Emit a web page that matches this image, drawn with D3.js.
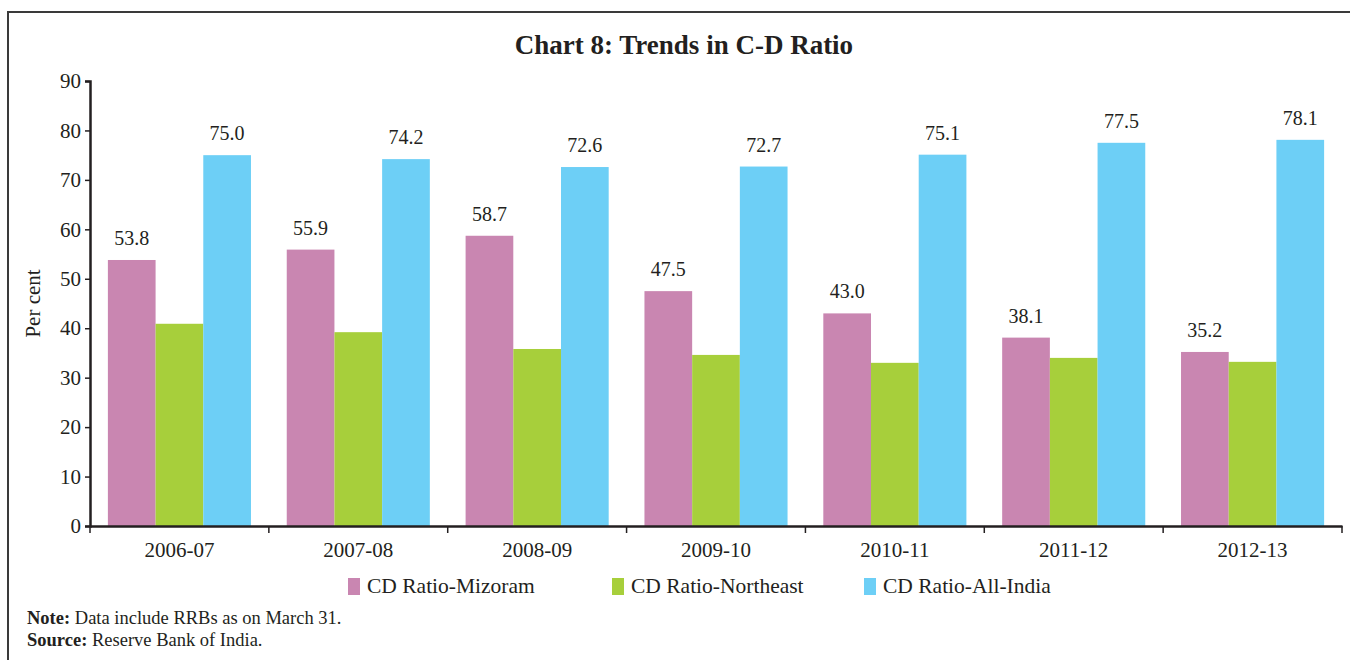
<!DOCTYPE html>
<html>
<head>
<meta charset="utf-8">
<script src="https://cdn.jsdelivr.net/npm/d3@7"></script>
<style>
  body { margin: 0; background: #fff; }
  svg text { font-family: "Liberation Serif", "DejaVu Serif", serif; fill: #231f20; }
</style>
</head>
<body>
<div id="chart"></div>
<script>

// Chart data

var years = ["2006-07", "2007-08", "2008-09", "2009-10", "2010-11", "2011-12", "2012-13"];
var seriesNames = ["CD Ratio-Mizoram", "CD Ratio-Northeast", "CD Ratio-All-India"];
var mizoram = [53.8, 55.9, 58.7, 47.5, 43.0, 38.1, 35.2];
var northeast = [40.9, 39.2, 35.8, 34.6, 33.0, 34.0, 33.2];
var allIndia = [75.0, 74.2, 72.6, 72.7, 75.1, 77.5, 78.1];
var yTicks = [0, 10, 20, 30, 40, 50, 60, 70, 80, 90];
var colors = ["#c986b1", "#a7cf3b", "#6dcff6"];
var labelled = [true, false, true];

var series = [mizoram, northeast, allIndia];

var width = 1350, height = 660;
var margin = { left: 90, right: 8, top: 81, bottom: 134 };

var svg = d3.select("#chart").append("svg")
    .attr("width", width)
    .attr("height", height);

// Frame

svg.append("path")
    .attr("d", "M8," + height + "V12H" + width)
    .attr("fill", "none")
    .attr("stroke", "#3a3a3a")
    .attr("stroke-width", 2);

// Title

svg.append("text")
    .attr("x", 684)
    .attr("y", 54)
    .attr("text-anchor", "middle")
    .style("font-size", "27px")
    .style("font-weight", "bold")
    .text("Chart 8: Trends in C-D Ratio");

// Scales

var x0 = d3.scaleBand()
    .domain(years)
    .range([margin.left, width - margin.right])
    .paddingInner(0.2)
    .paddingOuter(0.1);

var x1 = d3.scaleBand()
    .domain(d3.range(series.length))
    .range([0, x0.bandwidth()]);

var y = d3.scaleLinear()
    .domain([0, 90])
    .range([height - margin.bottom, margin.top]);

// Bars

var groups = svg.append("g").selectAll("g")
    .data(years)
    .join("g")
    .attr("transform", function (d) { return "translate(" + x0(d) + ",0)"; });

groups.selectAll("rect")
    .data(function (d, i) { return series.map(function (s, k) { return { k: k, v: s[i] }; }); })
    .join("rect")
    .attr("x", function (d) { return x1(d.k); })
    .attr("y", function (d) { return y(d.v); })
    .attr("width", x1.bandwidth())
    .attr("height", function (d) { return y(0) - y(d.v); })
    .style("fill", function (d) { return colors[d.k]; });

groups.selectAll("text")
    .data(function (d, i) {
        return series.map(function (s, k) { return { k: k, v: s[i] }; })
            .filter(function (d) { return labelled[d.k]; });
    })
    .join("text")
    .attr("x", function (d) { return x1(d.k) + x1.bandwidth() / 2; })
    .attr("y", function (d) { return y(d.v) - 15; })
    .attr("text-anchor", "middle")
    .style("font-size", "20px")
    .text(function (d) { return d.v.toFixed(1); });

// Axes

var xAxis = svg.append("g")
    .attr("transform", "translate(0," + y(0) + ")")
    .call(d3.axisBottom(x0).tickSize(0).tickPadding(16));

xAxis.select(".domain").attr("stroke", "#231f20").attr("stroke-width", 2.5);
xAxis.selectAll("text").style("font-size", "21px");

// category boundary ticks
xAxis.append("g").selectAll("line")
    .data(d3.range(years.length + 1))
    .join("line")
    .attr("x1", function (i) { return margin.left + x0.step() * i; })
    .attr("x2", function (i) { return margin.left + x0.step() * i; })
    .attr("y1", 0)
    .attr("y2", 7)
    .attr("stroke", "#231f20")
    .attr("stroke-width", 1.5);

var yAxis = svg.append("g")
    .attr("transform", "translate(" + margin.left + ",0)")
    .call(d3.axisLeft(y).tickValues(yTicks).tickSize(5).tickPadding(4).tickSizeOuter(5));

yAxis.select(".domain").attr("stroke", "#231f20").attr("stroke-width", 2.5);
yAxis.selectAll(".tick line").attr("stroke", "#231f20").attr("stroke-width", 1.5);
yAxis.selectAll("text").style("font-size", "21px");

svg.append("text")
    .attr("transform", "translate(40," + (y(45)) + ") rotate(-90)")
    .attr("text-anchor", "middle")
    .style("font-size", "21px")
    .text("Per cent");

// Legend

var legendX = [348, 612, 864];

var legend = svg.append("g").selectAll("g")
    .data(seriesNames)
    .join("g")
    .attr("transform", function (d, i) { return "translate(" + legendX[i] + ",578)"; });

legend.append("rect")
    .attr("width", 12)
    .attr("height", 17)
    .style("fill", function (d, i) { return colors[i]; });

legend.append("text")
    .attr("x", 19)
    .attr("y", 15)
    .style("font-size", "21.5px")
    .text(function (d) { return d; });

// Notes

var note = svg.append("text")
    .attr("x", 27)
    .attr("y", 624)
    .style("font-size", "18.5px");
note.append("tspan").style("font-weight", "bold").text("Note:");
note.append("tspan").text(" Data include RRBs as on March 31.");

var source = svg.append("text")
    .attr("x", 27)
    .attr("y", 646)
    .style("font-size", "18.5px");
source.append("tspan").style("font-weight", "bold").text("Source:");
source.append("tspan").text(" Reserve Bank of India.");

</script>
</body>
</html>
